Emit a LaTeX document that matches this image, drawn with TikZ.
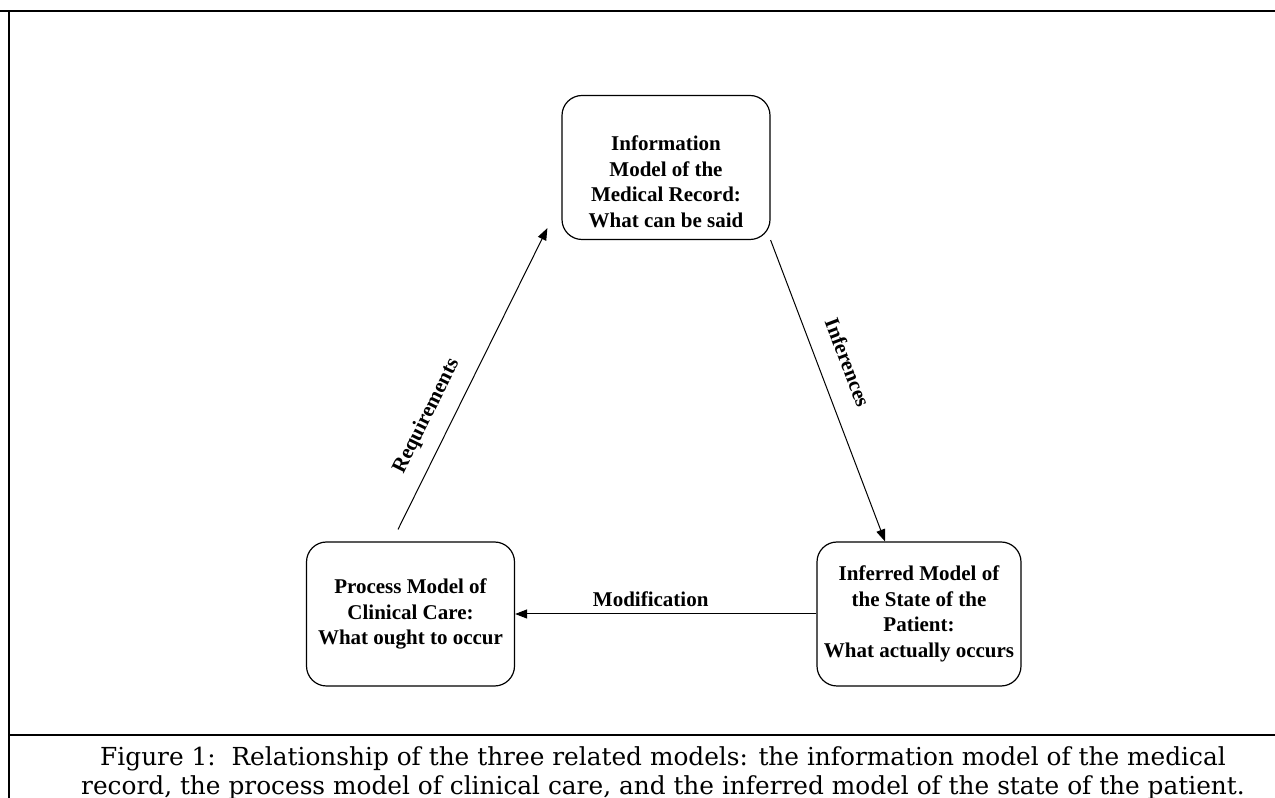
\documentclass[tikz,border=0pt]{standalone}
\usepackage{fontspec}
\setmainfont{Liberation Serif}
\newfontfamily\capfont{DejaVu Serif}
\usetikzlibrary{arrows.meta}

\begin{document}
\begin{tikzpicture}[x=0.5pt, y=0.5pt, >={Triangle[length=6pt,width=4.5pt]},
        model/.style={draw, rectangle, rounded corners=10pt, line width=0.6pt, minimum width=104pt, minimum height=72pt, align=center, font=\bfseries\fontsize{10.5}{12.8}\selectfont},
        rel/.style={font=\bfseries\fontsize{10.5}{12.8}\selectfont}]
        \useasboundingbox (0,0) rectangle (1275,798);
        % Frame
        \draw[line width=0.7pt] (0,787) -- (1275,787);
        \draw[line width=0.7pt] (9,787) -- (9,0);
        \draw[line width=0.7pt] (9,63) -- (1275,63);

        % Nodes
        \node (process) [model] at (410.5,184) {Process Model of\\Clinical Care:\\What ought to occur};
        \node (inferred) [model, minimum width=102pt, right of=process, node distance=254.25pt] {Inferred Model of\\the State of the\\Patient:\\What actually occurs};
        \node (info) [model] at (666,630.5) {\mbox{}\\[9pt]Information\\Model of the\\Medical Record:\\What can be said};
        \node (caption) [font=\capfont\fontsize{12.4}{14.2}\selectfont, align=center] at (663,25) {Figure 1:\ \ Relationship of the three related models: the information model of the medical\\record, the process model of clinical care, and the inferred model of the state of the patient.};

        % Edges
        \draw[->, line width=0.5pt] ([shift={(-12.5,12)}]process.north) -- node[rel, sloped, above=4pt, pos=0.34] {Requirements} ([shift={(-14,12)}]info.south west);
        \draw[->, line width=0.5pt] (info.south east) -- node[rel, sloped, above=7pt, pos=0.44] {Inferences} ([xshift=-17pt]inferred.north);
        \draw[->, line width=0.5pt] (inferred) -- node[rel, above, pos=0.55] {Modification} (process);
    \end{tikzpicture}
\end{document}
